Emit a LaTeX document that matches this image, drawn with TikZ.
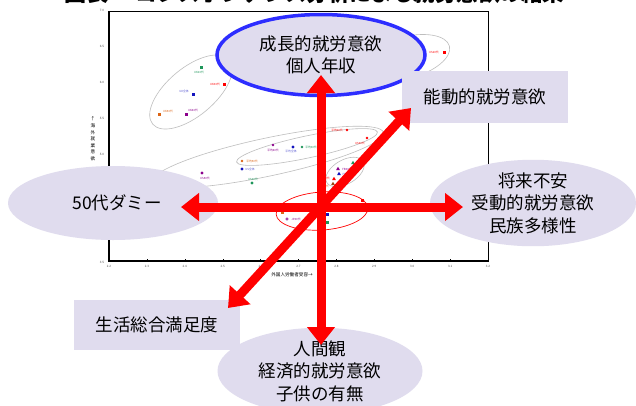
\documentclass[tikz,border=0pt]{standalone}
\usepackage{fontspec}
\setmainfont{Noto Sans CJK JP}
\usetikzlibrary{arrows.meta,shapes.geometric}
\definecolor{lav}{RGB}{224,220,238}
\definecolor{bblue}{RGB}{45,45,255}
\definecolor{ggray}{RGB}{190,190,190}
\definecolor{cgreen}{RGB}{30,150,90}
\definecolor{cblue}{RGB}{20,20,190}
\definecolor{corange}{RGB}{220,100,20}
\definecolor{cpurple}{RGB}{140,0,140}
\definecolor{cbrown}{RGB}{150,70,20}
\begin{document}
\begin{tikzpicture}[x=1pt,y=-1pt,
  every node/.style={inner sep=0pt},
  bigtext/.style={font=\fontsize{17.5}{22.5}\selectfont, align=center},
  lavell/.style={ellipse, fill=lav, bigtext},
  lavbox/.style={rectangle, fill=lav, bigtext},
  redarrow/.style={draw=red, line width=9pt, {Triangle[width=27pt,length=18pt]}-{Triangle[width=27pt,length=18pt]}},
  grayell/.style={draw=ggray, line width=0.6pt},
  ticklab/.style={font=\fontsize{3}{3}\selectfont, text=black!70},
  plab/.style={font=\fontsize{2.8}{3}\selectfont},
  sqm/.style={rectangle, minimum size=3pt},
  cim/.style={circle, minimum size=2.6pt},
  trm/.style={regular polygon, regular polygon sides=3, minimum size=4.5pt},
  dim/.style={diamond, minimum size=3.4pt},
]
\useasboundingbox (0,0) rectangle (636,405);
\clip (0,0) rectangle (636,405);
\fill[white] (0,0) rectangle (636,405);

% title (cut off at the top)
\node[font=\fontsize{22}{22}\selectfont\bfseries, anchor=base west] (title1) at (64,1) {図表};
\node[font=\fontsize{21.5}{22}\selectfont\bfseries, anchor=base west] (title2) at (135,1) {コレスポンデンス分析による就労意欲の結果};

% chart frame
\draw[line width=0.6pt] (109,11) rectangle (488,261);
\draw[line width=1.2pt] (109,11) -- (109,261) -- (488,261);
\foreach \v [count=\i from 0] in {2.2,2.3,2.4,2.5,2.6,2.7,2.8,2.9,3.0,3.1,3.2}{
  \draw[line width=0.3pt] ({109+37.9*\i},261) -- ({109+37.9*\i},259);
  \node[ticklab] (xl\i) at ({109+37.9*\i},266) {\v};
}
\foreach \v [count=\i from 0] in {7.0,6.5,6.0,5.5,5.0,4.5,4.0,3.5}{
  \node[ticklab] (yl\i) at (102,{10+36*\i}) {\v};
}
\node[font=\fontsize{4.6}{6.6}\selectfont, align=center] (ytitle) at (93,139) {↑\\海\\外\\就\\業\\意\\欲};
\node[font=\fontsize{4.6}{5}\selectfont] (xtitle) at (292,275) {外国人労働者受容→};

% gray group ellipses
\draw[grayell, rotate around={40:(191,92)}] (191,92) ellipse [x radius=50pt, y radius=24pt];
\draw[grayell, rotate around={15:(405,58)}] (405,58) ellipse [x radius=46pt, y radius=21pt];
\draw[grayell, rotate around={12:(268,157)}] (268,157) ellipse [x radius=118pt, y radius=19pt];
\draw[grayell, rotate around={12:(307,147)}] (307,147) ellipse [x radius=72pt, y radius=11pt];
\draw[grayell, rotate around={30:(345,172)}] (345,172) ellipse [x radius=21pt, y radius=12pt];
\draw[red, line width=0.7pt, rotate around={4:(322,211)}] (322,211) ellipse [x radius=46pt, y radius=19pt];

% data points
\node[sqm, fill=cgreen] (uk20) at (201,67) {};
\node[plab, text=cgreen] (uk20l) at (199,72) {UK20代};
\node[sqm, fill=red] (uk30) at (224,84) {};
\node[plab, text=red] (uk30l) at (215,84) {UK30代};
\node[sqm, fill=cblue] (ukall) at (193,94) {};
\node[plab, text=cblue!70] (ukalll) at (184,91) {UK全体};
\node[sqm, fill=corange] (uk50) at (159,114) {};
\node[plab, text=corange] (uk50l) at (168,111) {UK50代};
\node[sqm, fill=cpurple] (uk40) at (186,114) {};
\node[plab, text=cpurple] (uk40l) at (193,110) {UK40代};
\node[sqm, fill=red] (us20) at (444,52) {};
\node[plab, text=red] (us20l) at (434,52) {US20代};
\node[plab, text=cgreen!70] (us40l) at (390,84) {US40代};

\node[cim, fill=red] (av20) at (347,130) {};
\node[plab, text=red] (av20l) at (337,130) {平均20代};
\node[cim, fill=red] (us30) at (367,138) {};
\node[plab, text=red] (us30l) at (360,143) {US30代};
\node[dim, fill=cblue] (avall) at (293,147) {};
\node[plab, text=cblue!70] (avalll) at (291,151) {平均全体};
\node[cim, fill=cgreen] (av30) at (302,147) {};
\node[plab, text=cgreen] (av30l) at (311,147) {平均30代};
\node[cim, fill=cpurple] (av40) at (273,145) {};
\node[plab, text=cpurple] (av40l) at (273,150) {平均40代};
\node[cim, fill=corange] (av50) at (242,161) {};
\node[plab, text=corange] (av50l) at (252,161) {平均50代};
\node[dim, fill=cblue] (usall) at (242,169) {};
\node[plab, text=cblue!70] (usalll) at (250,169) {US全体};
\node[dim, fill=cgreen] (usg) at (252,183) {};
\node[plab, text=cgreen] (usgl) at (253,179) {US30代};
\node[dim, fill=cpurple] (us50) at (202,173) {};
\node[plab, text=cpurple] (us50l) at (205,178) {US50代};

\node[trm, fill=cgreen] (frg) at (353,163) {};
\node[plab, text=cgreen] (frgl) at (361,162) {FR30代};
\node[trm, fill=cpurple] (fr40) at (338,169) {};
\node[plab, text=cpurple] (fr40l) at (347,169) {FR40代};
\node[trm, fill=cblue] (frall) at (339,174) {};
\node[plab, text=cblue!70] (fralll) at (347,174) {FR全体};
\node[trm, fill=red] (fr20) at (334,179) {};
\node[plab, text=red] (fr20l) at (325,178) {FR20代};
\node[trm, fill=cbrown] (fr50) at (333,184) {};
\node[plab, text=corange] (fr50l) at (324,186) {FR50代};

\node[sqm, fill=red] (jp20) at (362,200) {};
\node[plab, text=red] (jp20l) at (360,204) {JP20代};
\node[sqm, fill=corange] (jp50) at (282,212) {};
\node[circle, draw=cpurple, line width=0.5pt, minimum size=2.6pt] (jp40) at (287,219) {};
\node[plab, text=cpurple] (jp40l) at (296,219) {JP40代};
\node[sqm, fill=cblue] (jpall) at (327,214) {};
\node[sqm, fill=cgreen] (jp30) at (327,222) {};

% lavender shapes
\node[lavell, draw=bblue, line width=3.5pt, minimum width=208pt, minimum height=81pt] (growth) at (321,55) {成長的就労意欲\\個人年収};
\node[lavbox, minimum width=166pt, minimum height=52pt] (active) at (485,97) {能動的就労意欲};
\node[lavell, minimum width=210pt, minimum height=74pt] (age50) at (113,203) {\hspace*{8pt}50代ダミー};
\node[lavell, minimum width=206pt, minimum height=76pt] (anx) at (533,203) {将来不安\\受動的就労意欲\\民族多様性};
\node[lavell, minimum width=205pt, minimum height=82pt] (human) at (320,371) {人間観\\経済的就労意欲\\子供の有無};
\node[lavbox, minimum width=166pt, minimum height=50pt] (life) at (157,325) {生活総合満足度};

% red arrows
\coordinate (vtop) at (321,75);
\coordinate (vbot) at (321,345);
\coordinate (hleft) at (181,207);
\coordinate (hright) at (463,207);
\coordinate (dlow) at (228,308);
\coordinate (dhigh) at (411,108);
\draw[redarrow] (vbot) -- (vtop);
\draw[redarrow] (hleft) -- (hright);
\draw[redarrow] (dlow) -- (dhigh);
\end{tikzpicture}
\end{document}
